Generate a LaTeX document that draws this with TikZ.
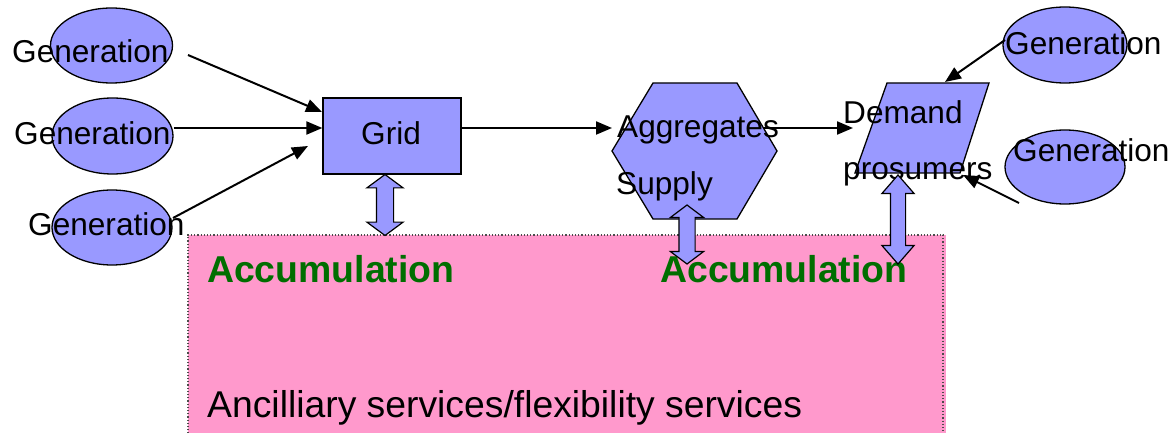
\documentclass[tikz,border=0pt]{standalone}
\usepackage{fontspec}
\setmainfont{Liberation Sans}
\usetikzlibrary{shapes.geometric,shapes.arrows,arrows.meta}
\definecolor{boxblue}{RGB}{153,153,255}
\definecolor{pinkbg}{RGB}{255,153,204}
\definecolor{accgreen}{RGB}{0,110,0}
\tikzset{
  gen/.style={ellipse,draw=black,line width=1.3pt,fill=boxblue,inner sep=0pt},
  lbl/.style={anchor=base west,inner sep=0pt,font=\fontsize{31.6}{36}\selectfont},
  acc/.style={anchor=base west,inner sep=0pt,text=accgreen,font=\fontsize{37.4}{42}\selectfont\bfseries},
  big/.style={anchor=base west,inner sep=0pt,font=\fontsize{37.3}{42}\selectfont},
  flow/.style={line width=2pt,-{Triangle[length=16pt,width=13pt]}},
  polybox/.style={draw=black,line width=1.3pt,fill=boxblue},
  dbl/.style={double arrow,draw=black,line width=1.2pt,fill=boxblue,rotate=90,double arrow head indent=0pt}
}
\begin{document}
\begin{tikzpicture}[x=1pt,y=-1pt]
\useasboundingbox (0,0) rectangle (1168,433);
% pink area
\draw[pinkbg,fill=pinkbg] (188,235) rectangle (945,440);
\draw[black!70,dotted,line width=1.2pt] (188,440) -- (188,235) -- (943,235) -- (943,440);
% left generation ellipses
\node[gen,minimum width=122pt,minimum height=75pt] (e1) at (111.5,45.5) {};
\node[gen,minimum width=121pt,minimum height=76pt] (e2) at (112.5,136) {};
\node[gen,minimum width=120pt,minimum height=75pt] (e3) at (112,227.5) {};
\node[lbl] (t1) at (12,63) {Generation};
\node[lbl] (t2) at (14,145) {Generation};
\node[lbl] (t3) at (28,236) {Generation};
% right generation ellipses
\node[gen,minimum width=124pt,minimum height=76pt] (e4) at (1065,45) {};
\node[gen,minimum width=120pt,minimum height=74pt] (e5) at (1065,167) {};
\node[lbl] (t4) at (1005,55) {Generation};
\node[lbl] (t5) at (1013,162) {Generation};
% grid
\node[draw=black,line width=1.3pt,fill=boxblue,minimum width=138pt,minimum height=76pt,inner sep=0pt] (grid) at (392,136) {};
\node[lbl] (tgrid) at (361,145) {Grid};
% hexagon
\draw[polybox] (612,151) -- (653,83) -- (737,83) -- (777,151) -- (737,219) -- (653,219) -- cycle;
\coordinate (hexw) at (612,128);
\coordinate (hexe) at (764,128);
\node[lbl] (tagg) at (617,138) {Aggregates};
\node[lbl] (tsup) at (616,195) {Supply};
% parallelogram
\draw[polybox] (887,83) -- (989,83) -- (960,173) -- (855,173) -- cycle;
\coordinate (parw) at (853,128);
\coordinate (parnt) at (945,82);
\coordinate (parsr) at (963,175);
\node[lbl] (tdem) at (843,124) {Demand};
\node[lbl] (tpro) at (843,179) {prosumers};
% connectors
\coordinate (a1) at (188,55);
\coordinate (b1) at (322,112);
\coordinate (b3) at (308,146);
\coordinate (a3) at (173,218);
\coordinate (a4) at (1005,40);
\coordinate (a5) at (1019,203);
\draw[flow] (a1) -- (b1);
\draw[flow] (e2.east |- 0,128) -- (grid.west |- 0,128);
\draw[flow] (a3) -- (b3);
\draw[flow] (grid.east |- hexw) -- (hexw);
\draw[flow] (hexe) -- (parw);
\draw[flow] (a4) -- (parnt);
\draw[flow] (a5) -- (parsr);
% texts in the pink area
\node[acc] (acc1) at (207,282) {Accumulation};
\node[acc] (acc2) at (660,282) {Accumulation};
\node[big] (anc) at (207,417) {Ancilliary services/flexibility services};
% double block arrows
\node[dbl,minimum height=61pt,inner xsep=0pt,inner ysep=8pt,double arrow head extend=9.5pt,double arrow tip angle=107] (d1) at (385,205) {};
\node[dbl,minimum height=59pt,inner xsep=0pt,inner ysep=7.5pt,double arrow head extend=8.5pt,double arrow tip angle=106] (d2) at (687,234.5) {};
\node[dbl,minimum height=89pt,inner xsep=0pt,inner ysep=7pt,double arrow head extend=8.5pt,double arrow tip angle=82] (d3) at (898,219.5) {};
\end{tikzpicture}
\end{document}
